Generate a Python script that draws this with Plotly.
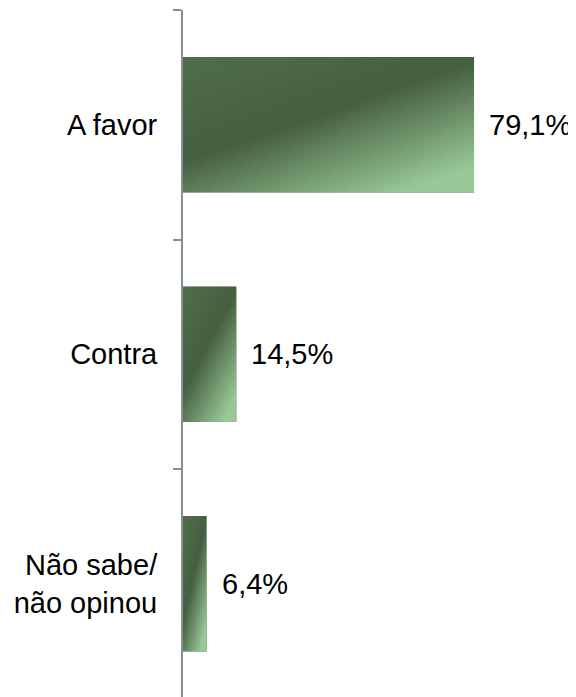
import base64
import plotly.graph_objects as go

categories = ["A favor", "Contra", "Não sabe/<br>não opinou"]
values = [79.1, 14.5, 6.4]
value_labels = ["79,1%", "14,5%", "6,4%"]

FONT = "Liberation Sans, Arial, sans-serif"
bar_color = "#4c6a44"
axis_color = "#868e96"
BAR_WIDTH = 0.59

# diagonal gradient used as bar fill (stretched over each bar)
svg = (
    '<svg xmlns="http://www.w3.org/2000/svg" width="100" height="100" '
    'preserveAspectRatio="none" viewBox="0 0 100 100">'
    '<defs><linearGradient id="g" x1="0" y1="0" x2="0.75" y2="1">'
    '<stop offset="0" stop-color="#506e49"/>'
    '<stop offset="0.5" stop-color="#465f3f"/>'
    '<stop offset="1" stop-color="#98c898"/>'
    '</linearGradient></defs>'
    '<rect width="100" height="100" fill="url(#g)"/></svg>'
)
svg_uri = "data:image/svg+xml;base64," + base64.b64encode(svg.encode()).decode()

fig = go.Figure()
fig.add_trace(go.Bar(
    x=values,
    y=categories,
    orientation="h",
    width=BAR_WIDTH,
    marker=dict(color=bar_color, line=dict(width=0)),
    hoverinfo="skip",
))

for i, (v, lab, cat) in enumerate(zip(values, value_labels, categories)):
    fig.add_annotation(
        x=v, y=cat, text=lab, showarrow=False,
        xanchor="left", yanchor="middle", xshift=13,
        font=dict(family=FONT, size=29, color="black"),
    )
    fig.add_layout_image(
        source=svg_uri, xref="x", yref="y",
        x=0, y=i, sizex=v, sizey=BAR_WIDTH,
        xanchor="left", yanchor="middle",
        sizing="stretch", layer="above",
    )

fig.update_layout(
    width=568, height=689,
    margin=dict(l=175, r=0, t=2, b=0),
    paper_bgcolor="white", plot_bgcolor="white",
    showlegend=False,
    font=dict(family=FONT, size=29, color="black"),
    xaxis=dict(range=[0, 106.8], visible=False, showgrid=False, zeroline=False),
    yaxis=dict(
        type="category",
        categoryorder="array", categoryarray=categories,
        range=[2.4935, -0.5],
        showline=True, linecolor=axis_color, linewidth=2,
        ticks="outside", ticklen=8, tickcolor=axis_color, tickwidth=2,
        tickson="boundaries",
        ticklabelstandoff=18,
        showgrid=False, zeroline=False,
        tickfont=dict(family=FONT, size=29, color="black"),
    ),
)

fig.write_html("out.html")
